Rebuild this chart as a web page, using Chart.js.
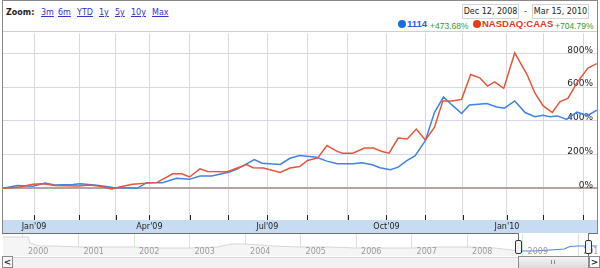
<!DOCTYPE html>
<html>
<head>
<meta charset="utf-8">
<script src="https://cdn.jsdelivr.net/npm/chart.js@4.4.1/dist/chart.umd.min.js"></script>
<style>
  body { margin: 0; width: 600px; height: 268px; background: #fff; overflow: hidden; font-family: "DejaVu Sans", sans-serif; }
  .abs { position: absolute; white-space: nowrap; }
  #frame { position: absolute; left: 2px; top: 0; width: 594px; height: 233px; border: 1px solid #888; border-bottom: none; }
  .hl { position: absolute; height: 1px; background: #6f6f6f; }
  .vl { position: absolute; width: 1px; background: #6f6f6f; }
  .zoomlbl { font-weight: bold; font-size: 8px; line-height: 8px; color: #222; }
  .lnk { font-size: 8px; line-height: 8px; color: #3333cc; text-decoration: underline; }
  .datebox { position: absolute; top: 4px; width: 55px; height: 13px; border: 1px solid #d4d4d4; font-size: 8px; line-height: 13px; text-align: center; color: #222; }
  .dot { position: absolute; width: 8px; height: 8px; border-radius: 50%; top: 20px; }
  .name { font-family: "Liberation Sans", sans-serif; font-weight: bold; font-size: 9.5px; line-height: 9.5px; top: 19px; }
  .chg { font-family: "Liberation Sans", sans-serif; font-size: 8.5px; line-height: 8.5px; top: 22px; color: #339933; }
  canvas { position: absolute; }
  .btn { position: absolute; top: 256px; width: 9px; height: 10px; border: 1px solid #8a8a8a; background: #f7f7f7; font-size: 9px; line-height: 10px; text-align: center; font-weight: bold; color: #222; }
  .handle { position: absolute; top: 240px; width: 5px; height: 12px; border: 1px solid #333; border-radius: 2px; background: #f2f2f2; }
</style>
</head>
<body>
<div id="frame"></div>
<div class="hl" style="left:3px;top:31px;width:594px;background:#cfcfcf"></div>

<div class="abs zoomlbl" style="left:6px;top:9px">Zoom:</div>
<div class="abs lnk" style="left:41px;top:9px">3m</div>
<div class="abs lnk" style="left:58px;top:9px">6m</div>
<div class="abs lnk" style="left:77px;top:9px">YTD</div>
<div class="abs lnk" style="left:99px;top:9px">1y</div>
<div class="abs lnk" style="left:115px;top:9px">5y</div>
<div class="abs lnk" style="left:131px;top:9px">10y</div>
<div class="abs lnk" style="left:152px;top:9px">Max</div>

<div class="datebox" style="left:462px">Dec 12, 2008</div>
<div class="abs" style="left:524px;top:8px;font-size:8px;line-height:8px;color:#222">-</div>
<div class="datebox" style="left:532px">Mar 15, 2010</div>

<div class="dot" style="left:398px;background:#1a6be6"></div>
<div class="abs name" style="left:407px;color:#1a63d8">1114</div>
<div class="abs chg" style="left:430px">+473.68%</div>
<div class="dot" style="left:473px;background:#e23d1c"></div>
<div class="abs name" style="left:482px;color:#e03a1e">NASDAQ:CAAS</div>
<div class="abs chg" style="left:555px">+704.79%</div>

<canvas id="main" width="594" height="201" style="left:3px;top:32px"></canvas>

<div class="hl" style="left:2px;top:233px;width:517px"></div>
<div class="hl" style="left:588px;top:233px;width:10px"></div>
<div class="vl" style="left:518px;top:233px;height:23px"></div>
<div class="vl" style="left:588px;top:233px;height:23px"></div>

<canvas id="overview" width="594" height="22" style="left:3px;top:234px"></canvas>

<div class="abs" style="left:12px;top:257px;width:577px;height:11px;background:#f1f1f1;border-top:1px solid #d8d8d8"></div>
<div class="abs" style="left:518px;top:256px;width:69px;height:12px;background:linear-gradient(#f4f4f4,#d9d9d9);border:1px solid #8c8c8c;border-bottom:none"></div>
<div class="abs" style="left:551px;top:260px;width:1px;height:4px;background:#888"></div>
<div class="abs" style="left:554px;top:260px;width:1px;height:4px;background:#888"></div>
<div class="btn" style="left:2px">&lt;</div>
<div class="btn" style="left:589px;background:#fff">&gt;</div>
<div class="handle" style="left:515px"></div>
<div class="handle" style="left:585px"></div>

<script>
// days counted from Dec 12, 2008
const days1114 = [-4, 7, 19, 28.5, 36, 50, 55.5, 68.5, 81, 99.5,
  107, 119, 130, 140, 148, 157, 171, 177, 190, 196,
  210, 217.5, 225, 238, 246, 254, 266, 273, 281, 287,
  295, 301, 308, 314, 322, 329, 336, 342.5, 350, 356,
  369.5, 377, 383, 391, 399, 406.5, 413, 418, 424, 431,
  439, 447, 454.4];
const pct1114 = [0, 16, 12, 31, 20, 22, 27, 18, 4, 0,
  33, 33, 59, 53, 73, 73, 96, 115, 170, 149,
  141, 178, 194, 184, 161, 145, 145, 151, 139, 122,
  110, 125, 165, 192, 282, 449, 541, 494, 443, 494,
  502, 482, 475, 518, 449, 424, 433, 424, 429, 408,
  451, 431, 463];

const daysCaas = [-4, 9, 19, 27, 36, 54, 63, 71, 80, 86,
  96, 115, 127, 134, 140, 148, 154, 169, 184, 189,
  197, 210, 217.5, 225, 231, 239, 246, 254, 258, 266,
  275, 282, 288.5, 294, 301, 308, 315, 322, 329, 335.5,
  342.5, 350, 357, 364, 370, 375.5, 382.5, 391, 400.5, 406.5,
  413, 420, 426, 432, 439, 447.5, 454.4];
const pctCaas = [0, 8, 24, 27, 16, 14, 20, 12, -4, 8,
  24, 35, 86, 86, 67, 115, 100, 98, 141, 122,
  120, 94, 120, 129, 165, 180, 253, 219, 208, 208,
  239, 239, 218, 208, 298, 292, 351, 286, 361, 518,
  518, 527, 674, 655, 606, 631, 592, 802, 674, 566,
  488, 449, 514, 533, 625, 713, 739];

const tickDays = [20, 55, 83, 109, 140, 170, 200, 231, 262, 292, 322, 351, 385, 413, 444];
const tickLabels = ["Jan'09", "", "", "Apr'09", "", "", "Jul'09", "", "", "Oct'09", "", "", "Jan'10", "", ""];
const yTicks = [0, 200, 400, 600, 800];

// overview strip
const yearTicks = [2000, 2001, 2002, 2003, 2004, 2005, 2006, 2007, 2008, 2009, 2010];
const yearLabels = ["2000", "2001", "2002", "2003", "2004", "2005", "2006", "2007", "2008", "2009", "2010"];
const histYears = [1999.64, 2000.1, 2000.12, 2000.3, 2000.6, 2001.0, 2001.5, 2002.0, 2002.5, 2003.0, 2003.5, 2003.75,
  2004.0, 2004.5, 2005.0, 2005.5, 2006.0, 2006.5, 2007.0, 2007.5, 2008.0, 2008.5, 2008.95];
const histValues = [19, 19, 13, 10, 10, 9, 9, 9, 8, 8, 9, 12, 12, 10, 9, 9, 8, 8, 8, 9, 9, 8, 5];
const selYears = [2008.95, 2009.2, 2009.5, 2009.75, 2009.85, 2010.0, 2010.34];
const selValues = [5, 5, 6, 7, 9.5, 10, 10];

const FONT = "DejaVu Sans";
const pts = (xs, ys) => xs.map((x, i) => ({ x: x, y: ys[i] }));

const bandPlugin = {
  id: 'band',
  beforeDraw(chart) {
    const ctx = chart.ctx, a = chart.chartArea;
    ctx.save();
    ctx.fillStyle = '#c7dbf3';
    ctx.fillRect(0, a.bottom, chart.width, chart.height - a.bottom);
    ctx.restore();
  },
  afterDraw(chart) {
    const ctx = chart.ctx, a = chart.chartArea, sx = chart.scales.x;
    ctx.save();
    ctx.strokeStyle = '#222';
    ctx.lineWidth = 1;
    sx.ticks.forEach(t => {
      const x = Math.round(sx.getPixelForValue(t.value)) + 0.5;
      ctx.beginPath();
      ctx.moveTo(x, a.bottom - 5);
      ctx.lineTo(x, a.bottom);
      ctx.stroke();
    });
    ctx.restore();
  }
};

// year names sit inside the strip, just right of each year line
const yearLabelPlugin = {
  id: 'yearLabels',
  afterDraw(chart) {
    const ctx = chart.ctx, sx = chart.scales.x;
    ctx.save();
    ctx.fillStyle = '#9a9a9a';
    ctx.font = '8px "DejaVu Sans"';
    ctx.textBaseline = 'alphabetic';
    yearTicks.forEach((y, i) => {
      ctx.fillText(yearLabels[i], sx.getPixelForValue(y) + 5, 20);
    });
    ctx.restore();
  }
};

new Chart(document.getElementById('main'), {
  type: 'line',
  data: {
    datasets: [
      { label: 'NASDAQ:CAAS', data: pts(daysCaas, pctCaas), borderColor: '#e6553a', borderWidth: 1.5, pointRadius: 0, tension: 0 },
      { label: '1114', data: pts(days1114, pct1114), borderColor: '#3d84e6', borderWidth: 1.5, pointRadius: 0, tension: 0 }
    ]
  },
  options: {
    responsive: false,
    animation: false,
    events: [],
    layout: { padding: 0 },
    plugins: { legend: { display: false }, tooltip: { enabled: false } },
    scales: {
      x: {
        type: 'linear', min: -4, max: 454.5,
        afterBuildTicks: s => { s.ticks = tickDays.map(v => ({ value: v })); },
        afterFit: s => { s.height = 13; },
        grid: { color: '#dadada', drawTicks: false },
        border: { display: false },
        ticks: {
          autoSkip: false, maxRotation: 0, padding: 2, color: '#222',
          font: { family: FONT, size: 8 },
          callback: (v, i) => tickLabels[i]
        }
      },
      y: {
        position: 'right', min: -188, max: 918,
        afterBuildTicks: s => { s.ticks = yTicks.map(v => ({ value: v })); },
        afterFit: s => { s.width = 0; },
        grid: {
          drawTicks: false,
          color: c => (c.tick && c.tick.value === 0) ? '#b7a2a2' : '#d7d7ec',
          lineWidth: c => (c.tick && c.tick.value === 0) ? 2 : 1
        },
        border: { display: false },
        ticks: {
          mirror: true, padding: -4, labelOffset: -3, color: '#222',
          font: { family: FONT, size: 9 },
          callback: v => v + '%'
        }
      }
    }
  },
  plugins: [bandPlugin]
});

new Chart(document.getElementById('overview'), {
  type: 'line',
  data: {
    datasets: [
      { data: pts(selYears, selValues), borderColor: '#4a8ae8', borderWidth: 1.2, pointRadius: 0, fill: false },
      { data: pts(histYears, histValues), borderColor: '#d6d6d6', backgroundColor: '#f5f5f5', borderWidth: 1, pointRadius: 0, fill: 'origin' }
    ]
  },
  options: {
    responsive: false,
    animation: false,
    events: [],
    layout: { padding: 0 },
    plugins: { legend: { display: false }, tooltip: { enabled: false } },
    scales: {
      x: {
        type: 'linear', min: 1999.64, max: 2010.34,
        afterBuildTicks: s => { s.ticks = yearTicks.map(v => ({ value: v })); },
        afterFit: s => { s.height = 0; },
        grid: { color: '#d3e8d3', drawTicks: false },
        border: { display: false },
        ticks: { display: false }
      },
      y: { display: false, min: 0, max: 22 }
    }
  },
  plugins: [yearLabelPlugin]
});
</script>
</body>
</html>
